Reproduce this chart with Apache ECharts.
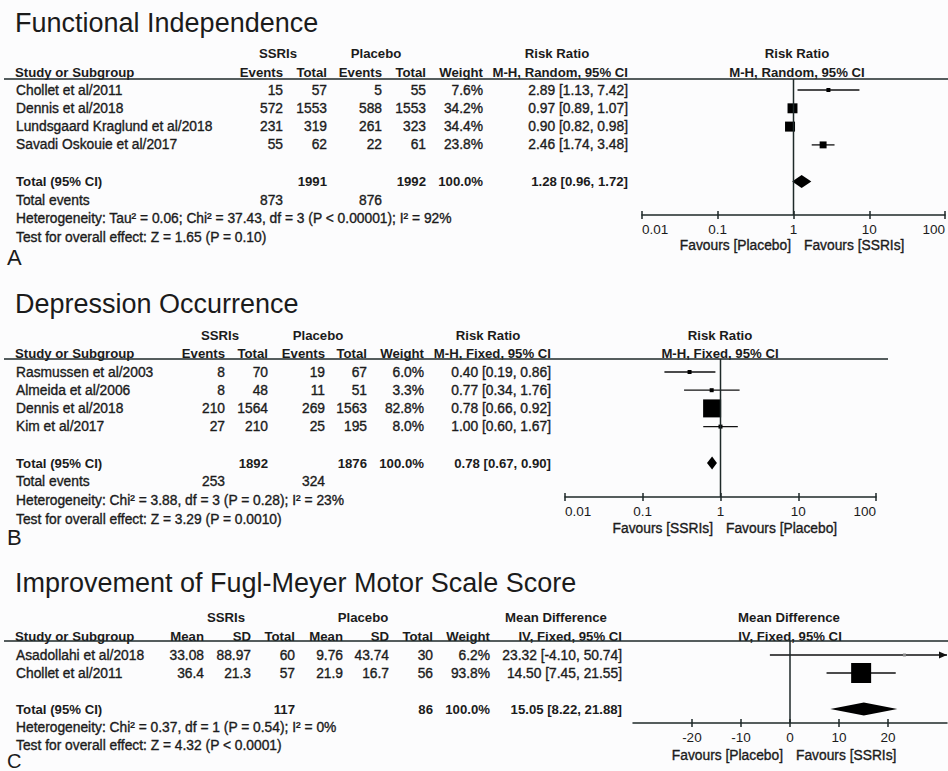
<!DOCTYPE html>
<html>
<head>
<meta charset="utf-8">
<title>SSRIs after stroke – forest plots</title>
<script src="https://cdn.jsdelivr.net/npm/echarts@6/dist/echarts.min.js"></script>
<style>
  html, body { margin: 0; padding: 0; background: #fcfcfd; }
  #chart { width: 948px; height: 771px; }
</style>
</head>
<body>
<div id="chart"></div>
<script>
// ---------- A: Functional independence (risk ratio, M-H random effects) ----------
const fiStudies = ['Chollet et al/2011', 'Dennis et al/2018', 'Lundsgaard Kraglund et al/2018', 'Savadi Oskouie et al/2017'];
const fiSsriEvents = [15, 572, 231, 55];
const fiSsriTotal = [57, 1553, 319, 62];
const fiPlaceboEvents = [5, 588, 261, 22];
const fiPlaceboTotal = [55, 1553, 323, 61];
const fiWeight = [7.6, 34.2, 34.4, 23.8];
const fiRatio = [2.89, 0.97, 0.90, 2.46];
const fiLower = [1.13, 0.89, 0.82, 1.74];
const fiUpper = [7.42, 1.07, 0.98, 3.48];
const fiPooled = [1.28, 0.96, 1.72];          // estimate, lower, upper
const fiTotals = [1991, 1992];
const fiTotalEvents = [873, 876];
const fiHeterogeneity = 'Heterogeneity: Tau\u00b2 = 0.06; Chi\u00b2 = 37.43, df = 3 (P < 0.00001); I\u00b2 = 92%';
const fiOverall = 'Test for overall effect: Z = 1.65 (P = 0.10)';

// ---------- B: Depression occurrence (risk ratio, M-H fixed effect) ----------
const doStudies = ['Rasmussen et al/2003', 'Almeida et al/2006', 'Dennis et al/2018', 'Kim et al/2017'];
const doSsriEvents = [8, 8, 210, 27];
const doSsriTotal = [70, 48, 1564, 210];
const doPlaceboEvents = [19, 11, 269, 25];
const doPlaceboTotal = [67, 51, 1563, 195];
const doWeight = [6.0, 3.3, 82.8, 8.0];
const doRatio = [0.40, 0.77, 0.78, 1.00];
const doLower = [0.19, 0.34, 0.66, 0.60];
const doUpper = [0.86, 1.76, 0.92, 1.67];
const doPooled = [0.78, 0.67, 0.90];
const doTotals = [1892, 1876];
const doTotalEvents = [253, 324];
const doHeterogeneity = 'Heterogeneity: Chi\u00b2 = 3.88, df = 3 (P = 0.28); I\u00b2 = 23%';
const doOverall = 'Test for overall effect: Z = 3.29 (P = 0.0010)';

const ratioTickLabels = ['0.01', '0.1', '1', '10', '100'];

// ---------- C: Fugl-Meyer motor score (mean difference, IV fixed effect) ----------
const fmStudies = ['Asadollahi et al/2018', 'Chollet et al/2011'];
const fmSsriMean = [33.08, 36.4];
const fmSsriSD = [88.97, 21.3];
const fmSsriTotal = [60, 57];
const fmPlaceboMean = [9.76, 21.9];
const fmPlaceboSD = [43.74, 16.7];
const fmPlaceboTotal = [30, 56];
const fmWeight = [6.2, 93.8];
const fmDiff = [23.32, 14.50];
const fmLower = [-4.10, 7.45];
const fmUpper = [50.74, 21.55];
const fmPooled = [15.05, 8.22, 21.88];
const fmTotals = [117, 86];
const fmHeterogeneity = 'Heterogeneity: Chi\u00b2 = 0.37, df = 1 (P = 0.54); I\u00b2 = 0%';
const fmOverall = 'Test for overall effect: Z = 4.32 (P < 0.0001)';
const diffTicks = [-20, -10, 0, 10, 20];

const totalWeight = '100.0%';

// ---------- styling ----------
const INK = '#1b1b1b';
const RULE = '#1e2929';
const FAMILY = '"Liberation Sans", Arial, Helvetica, sans-serif';
const BODY = '13.8px ' + FAMILY;
const BOLD = 'bold 13.2px ' + FAMILY;
const TITLE = '27px ' + FAMILY;

const fmt2 = v => v.toFixed(2);
const ciText = (e, l, u) => fmt2(e) + ' [' + fmt2(l) + ', ' + fmt2(u) + ']';
const pct = w => w.toFixed(1) + '%';

const panels = [
  {
    title: 'Functional Independence', titleY: 23, letter: 'A', letterY: 257, letterSize: 22,
    head1Y: 53, head2Y: 72, ruleY: 79, ruleEnd: 948, axisY: 215,
    rowY0: 90, rowStep: 18.3, footStep: 18.5,
    groups: [['SSRIs', 278], ['Placebo', 376], ['Risk Ratio', 557], ['Risk Ratio', 797]],
    columns: [
      ['Events', 283, fiSsriEvents],
      ['Total', 327, fiSsriTotal],
      ['Events', 382, fiPlaceboEvents],
      ['Total', 426, fiPlaceboTotal],
      ['Weight', 483, fiWeight.map(pct)],
      ['M-H, Random, 95% CI', 628, fiRatio.map((e, i) => ciText(e, fiLower[i], fiUpper[i]))]
    ],
    plotHead: ['M-H, Random, 95% CI', 797],
    names: fiStudies,
    totalCells: [[327, fiTotals[0]], [426, fiTotals[1]], [483, totalWeight], [628, ciText(...fiPooled)]],
    eventCells: [[283, fiTotalEvents[0]], [382, fiTotalEvents[1]]],
    notes: [fiHeterogeneity, fiOverall],
    favours: ['Favours [Placebo]', 'Favours [SSRIs]'], favoursX: 798, favoursY: 245,
    axis: { kind: 'log', min: 0.01, max: 100, left: 642, width: 312, nullValue: 1 },
    est: fiRatio, lo: fiLower, hi: fiUpper, weight: fiWeight, pooled: fiPooled,
    maxSide: 10, minSide: 4, dotColor: '#000'
  },
  {
    title: 'Depression Occurrence', titleY: 304, letter: 'B', letterY: 537, letterSize: 22,
    head1Y: 335, head2Y: 353, ruleY: 359, ruleEnd: 888, axisY: 497,
    rowY0: 372, rowStep: 18.2, footStep: 18.8,
    groups: [['SSRIs', 220], ['Placebo', 318], ['Risk Ratio', 488], ['Risk Ratio', 720]],
    columns: [
      ['Events', 225, doSsriEvents],
      ['Total', 268, doSsriTotal],
      ['Events', 325, doPlaceboEvents],
      ['Total', 367, doPlaceboTotal],
      ['Weight', 424, doWeight.map(pct)],
      ['M-H, Fixed, 95% CI', 551, doRatio.map((e, i) => ciText(e, doLower[i], doUpper[i]))]
    ],
    plotHead: ['M-H, Fixed, 95% CI', 720],
    names: doStudies,
    totalCells: [[268, doTotals[0]], [367, doTotals[1]], [424, totalWeight], [551, ciText(...doPooled)]],
    eventCells: [[225, doTotalEvents[0]], [325, doTotalEvents[1]]],
    notes: [doHeterogeneity, doOverall],
    favours: ['Favours [SSRIs]', 'Favours [Placebo]'], favoursX: 720, favoursY: 528,
    axis: { kind: 'log', min: 0.01, max: 100, left: 565, width: 311, nullValue: 1 },
    est: doRatio, lo: doLower, hi: doUpper, weight: doWeight, pooled: doPooled,
    maxSide: 18, minSide: 4, dotColor: '#000'
  },
  {
    title: 'Improvement of Fugl-Meyer Motor Scale Score', titleY: 583, letter: 'C', letterY: 761, letterSize: 20,
    head1Y: 617, head2Y: 636, ruleY: 641, ruleEnd: 948, axisY: 723,
    rowY0: 655, rowStep: 18, footStep: 18,
    groups: [['SSRIs', 226], ['Placebo', 363], ['Mean Difference', 556], ['Mean Difference', 789]],
    columns: [
      ['Mean', 204, fmSsriMean],
      ['SD', 251, fmSsriSD],
      ['Total', 295, fmSsriTotal],
      ['Mean', 343, fmPlaceboMean],
      ['SD', 389, fmPlaceboSD],
      ['Total', 433, fmPlaceboTotal],
      ['Weight', 490, fmWeight.map(pct)],
      ['IV, Fixed, 95% CI', 622, fmDiff.map((e, i) => ciText(e, fmLower[i], fmUpper[i]))]
    ],
    plotHead: ['IV, Fixed, 95% CI', 790],
    names: fmStudies,
    totalCells: [[295, fmTotals[0]], [433, fmTotals[1]], [490, totalWeight], [622, ciText(...fmPooled)]],
    eventCells: null,
    notes: [fmHeterogeneity, fmOverall],
    favours: ['Favours [Placebo]', 'Favours [SSRIs]'], favoursX: 790, favoursY: 755,
    axis: { kind: 'value', min: -32, max: 32, left: 633, width: 314, nullValue: 0, ticks: diffTicks },
    est: fmDiff, lo: fmLower, hi: fmUpper, weight: fmWeight, pooled: fmPooled,
    maxSide: 20, minSide: 3, dotColor: '#8a8a8a'
  }
];

// ---------- build text + rules ----------
const elements = [];
function text(s, x, y, font, align, heavy) {
  const style = {
    text: String(s), x: x, y: y, font: font, fill: INK,
    textAlign: align || 'left', textVerticalAlign: 'middle',
    align: align || 'left', verticalAlign: 'middle'
  };
  if (heavy) { style.stroke = INK; style.lineWidth = 0.35; }
  elements.push({ type: 'text', silent: true, style: style });
}
function rule(x1, y, x2) {
  elements.push({
    type: 'line', silent: true,
    shape: { x1: x1, y1: y, x2: x2, y2: y },
    style: { stroke: RULE, lineWidth: 1.5 }
  });
}

const grids = [], xAxes = [], yAxes = [], series = [];

panels.forEach((p, k) => {
  const nameX = 16;
  const totalIndex = p.names.length + 1;
  const totalY = p.rowY0 + totalIndex * p.rowStep;

  text(p.title, 15, p.titleY, TITLE, 'left');
  text(p.letter, 7, p.letterY, p.letterSize + 'px ' + FAMILY, 'left');

  p.groups.forEach(g => text(g[0], g[1], p.head1Y, BOLD, 'center'));
  text('Study or Subgroup', 15, p.head2Y, BOLD, 'left');
  p.columns.forEach(c => text(c[0], c[1], p.head2Y, BOLD, 'right'));
  text(p.plotHead[0], p.plotHead[1], p.head2Y, BOLD, 'center');
  rule(4, p.ruleY, p.ruleEnd);

  p.names.forEach((n, i) => {
    const y = p.rowY0 + i * p.rowStep;
    text(n, nameX, y, BODY, 'left', true);
    p.columns.forEach(c => text(c[2][i], c[1], y, BODY, 'right', true));
  });

  text('Total (95% CI)', nameX, totalY, BOLD, 'left');
  p.totalCells.forEach(c => text(c[1], c[0], totalY, BOLD, 'right'));
  let y = totalY;
  if (p.eventCells) {
    y += p.footStep;
    text('Total events', nameX, y, BODY, 'left', true);
    p.eventCells.forEach(c => text(c[1], c[0], y, BODY, 'right', true));
  }
  p.notes.forEach(n => { y += p.footStep; text(n, nameX, y, BODY, 'left', true); });

  text(p.favours[0], p.favoursX - 7, p.favoursY, BODY, 'right', true);
  text(p.favours[1], p.favoursX + 6, p.favoursY, BODY, 'left', true);

  // ---------- plot area ----------
  const plotHeight = p.axisY - p.ruleY;
  grids.push({ left: p.axis.left, width: p.axis.width, top: p.ruleY, height: plotHeight });
  const yMin = (p.ruleY - p.rowY0) / p.rowStep;
  const yMax = (p.axisY - p.rowY0) / p.rowStep;
  yAxes.push({ gridIndex: k, type: 'value', inverse: true, min: yMin, max: yMax, show: false });

  const isLog = p.axis.kind === 'log';
  const base = {
    gridIndex: k, type: isLog ? 'log' : 'value',
    min: p.axis.min, max: p.axis.max, splitLine: { show: false }
  };
  if (isLog) base.logBase = 10;
  const tickStyle = { color: RULE, width: 1.5 };
  const labelCfg = {
    show: true, margin: 7, color: INK, fontSize: 13.5, fontFamily: FAMILY,
    alignMinLabel: isLog ? 'left' : null, alignMaxLabel: isLog ? 'right' : null,
    showMinLabel: true, showMaxLabel: true,
    formatter: isLog ? (v => ratioTickLabels[Math.round(Math.log10(v)) + 2]) : (v => String(v))
  };
  if (!isLog) labelCfg.customValues = p.axis.ticks;
  const downTick = { show: true, inside: false, length: 4, lineStyle: tickStyle };
  const upTick = { show: true, inside: false, length: 4, lineStyle: tickStyle };
  if (!isLog) { downTick.customValues = p.axis.ticks; upTick.customValues = p.axis.ticks; }

  // main axis: line, labels and the lower half of each tick
  xAxes.push(Object.assign({}, base, {
    position: 'bottom',
    axisLine: { show: true, onZero: false, lineStyle: { color: RULE, width: 1.5 } },
    axisTick: downTick, axisLabel: labelCfg
  }));
  // companion axis shifted onto the same baseline: upper half of each tick
  xAxes.push(Object.assign({}, base, {
    position: 'top', offset: -plotHeight,
    axisLine: { show: false }, axisTick: upTick, axisLabel: { show: false }
  }));
  const xi = k * 2;

  // line of no effect
  series.push({
    type: 'line', xAxisIndex: xi, yAxisIndex: k, silent: true, symbol: 'none',
    lineStyle: { color: RULE, width: 1.5 },
    data: [[p.axis.nullValue, yMin], [p.axis.nullValue, yMax]]
  });

  // individual studies: CI whisker + weighted square
  const maxW = Math.max(...p.weight);
  series.push({
    type: 'custom', xAxisIndex: xi, yAxisIndex: k, silent: true, clip: false,
    encode: { x: [1, 2, 3], y: 0 },
    data: p.est.map((e, i) => [i, e, p.lo[i], p.hi[i], p.weight[i]]),
    renderItem: (params, api) => {
      const row = api.value(0), est = api.value(1), lo = api.value(2), hi = api.value(3), w = api.value(4);
      const a = api.coord([Math.max(lo, p.axis.min), row]);
      const b = api.coord([Math.min(hi, p.axis.max), row]);
      const c = api.coord([est, row]);
      const raw = p.maxSide * w / maxW;
      const side = Math.max(p.minSide, raw);
      const children = [{
        type: 'line', shape: { x1: a[0], y1: a[1], x2: b[0], y2: b[1] },
        style: { stroke: '#111', lineWidth: 1.3 }
      }];
      if (hi > p.axis.max) {
        children.push({
          type: 'polygon',
          shape: { points: [[b[0], b[1]], [b[0] - 8, b[1] - 3.5], [b[0] - 8, b[1] + 3.5]] },
          style: { fill: '#111' }
        });
      }
      children.push({
        type: 'rect',
        shape: { x: c[0] - side / 2, y: c[1] - side / 2, width: side, height: side },
        style: { fill: raw < p.minSide ? p.dotColor : '#000' }
      });
      return { type: 'group', children: children };
    }
  });

  // pooled estimate diamond
  series.push({
    type: 'custom', xAxisIndex: xi, yAxisIndex: k, silent: true, clip: false,
    encode: { x: [1, 2, 3], y: 0 },
    data: [[totalIndex, p.pooled[0], p.pooled[1], p.pooled[2]]],
    renderItem: (params, api) => {
      const row = api.value(0);
      const l = api.coord([api.value(2), row]);
      const c = api.coord([api.value(1), row]);
      const r = api.coord([api.value(3), row]);
      const h = 6.5;
      return {
        type: 'polygon',
        shape: { points: [[l[0], l[1]], [c[0], c[1] - h], [r[0], r[1]], [c[0], c[1] + h]] },
        style: { fill: '#000' }
      };
    }
  });
});

const chart = echarts.init(document.getElementById('chart'), null, { renderer: 'svg' });
chart.setOption({
  backgroundColor: '#fcfcfd',
  animation: false,
  grid: grids,
  xAxis: xAxes,
  yAxis: yAxes,
  series: series,
  graphic: { elements: elements }
});
</script>
</body>
</html>
